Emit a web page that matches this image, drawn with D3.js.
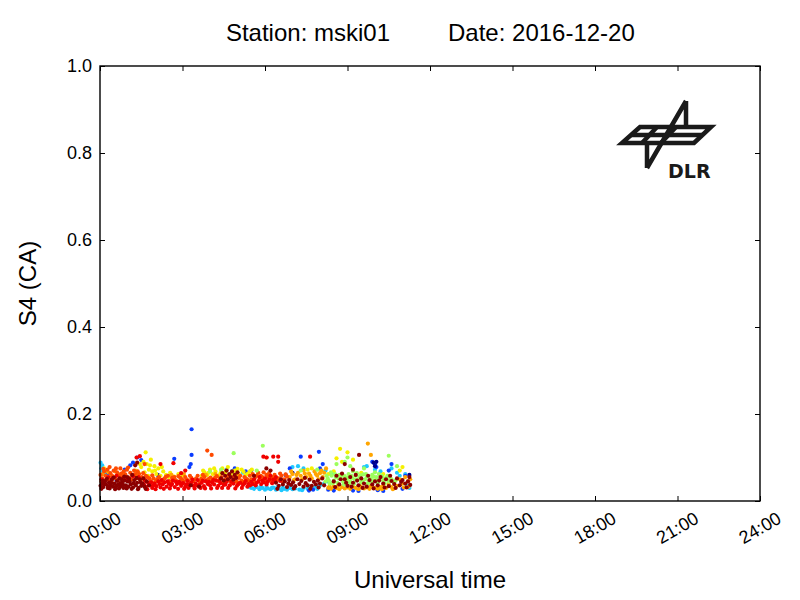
<!DOCTYPE html>
<html>
<head>
<meta charset="utf-8">
<script src="https://cdn.jsdelivr.net/npm/d3@7"></script>
<style>
    body { margin: 0; background: #fff; }
    svg { font-family: "Liberation Sans", Arial, sans-serif; }
    .axis path { display: none; }
    .axis line { stroke: #000; stroke-width: 1; }
</style>
</head>
<body>
<svg id="svgS4" width="800" height="600"></svg>
<script>

// Tick values / labels
var xTicks = [0, 3, 6, 9, 12, 15, 18, 21, 24];
var xTickLabels = ["00:00", "03:00", "06:00", "09:00", "12:00", "15:00", "18:00", "21:00", "24:00"];
var yTicks = [0, 0.2, 0.4, 0.6, 0.8, 1.0];

// S4 points per satellite colour group, [hour UT, S4]
var cyanPoints = [[0.02,0.088],[0.05,0.075],[0.1,0.068],[0.2,0.065],[5.4,0.033],[5.5,0.03],[5.6,0.028],[5.7,0.032],
    [5.8,0.027],[5.9,0.03],[6.0,0.026],[6.1,0.029],[6.2,0.027],[6.3,0.031],[6.4,0.026],[6.5,0.029],[6.6,0.025],
    [6.7,0.028],[6.8,0.026],[6.9,0.03],[7.0,0.027],[7.1,0.029],[7.25,0.026],[7.4,0.03],[7.55,0.028],[7.7,0.031],
    [7.85,0.033],[8.0,0.036],[8.15,0.04],[8.3,0.045],[4.6,0.072],[4.8,0.068],[5.2,0.065],[7.0,0.078],[7.2,0.08],
    [7.4,0.075],[8.2,0.07],[8.4,0.062],[9.6,0.078],[9.7,0.08],[10.0,0.072],[10.2,0.068],[10.6,0.075],[10.8,0.065],
    [11.1,0.062],[11.25,0.03],[11.2,0.035],
    [5.45,0.036],[5.65,0.035],[5.85,0.033],[6.05,0.032],[6.25,0.03],[6.45,0.032],[6.65,0.03],[6.85,0.032],
    [7.05,0.031],[7.35,0.025],[7.6,0.033],[7.9,0.028],[10.9,0.058],[11.15,0.033],[0.08,0.082]];

var bluePoints = [[0.3,0.064],[0.9,0.072],[1.1,0.082],[1.35,0.1],[1.5,0.094],[1.2,0.088],[2.7,0.097],[3.33,0.165],
    [3.33,0.106],[3.3,0.085],[3.25,0.078],[4.9,0.075],[5.3,0.068],[5.5,0.07],[6.9,0.075],[7.3,0.102],[7.96,0.113],
    [8.1,0.085],[8.0,0.075],[9.9,0.09],[10.0,0.084],[10.05,0.078],[10.6,0.085],[10.5,0.07],[11.1,0.058],
    [7.6,0.024],[7.75,0.026],[8.3,0.026],[8.5,0.024],[9.2,0.024],[9.4,0.023],[10.1,0.025],[10.3,0.023],[11.0,0.028]];

var darkBluePoints = [[0.6,0.048],[2.1,0.06],[6.75,0.06],[7.0,0.065],[9.95,0.088],[10.05,0.09],[10.0,0.08],[11.25,0.06]];

var yellowPoints = [[0.15,0.075],[1.3,0.07],[1.4,0.065],[1.5,0.078],[1.58,0.09],[1.66,0.112],[1.7,0.085],[1.78,0.072],
    [1.85,0.095],[1.9,0.068],[1.98,0.08],[2.05,0.062],[2.12,0.075],[2.2,0.058],[2.3,0.068],[2.4,0.06],[2.55,0.065],
    [2.7,0.056],[2.85,0.062],[3.0,0.058],[3.7,0.058],[3.8,0.066],[3.9,0.06],[4.0,0.072],[4.1,0.062],[4.2,0.068],
    [4.3,0.058],[4.45,0.075],[4.55,0.065],[4.65,0.078],[4.75,0.06],[4.9,0.07],[5.05,0.062],[5.15,0.072],[5.3,0.06],
    [5.45,0.068],[5.6,0.058],[5.75,0.064],[7.55,0.072],[7.7,0.075],[8.6,0.098],[8.73,0.12],[8.8,0.09],[9.0,0.112],
    [9.2,0.095],[10.9,0.07],[11.0,0.078],[0.5,0.055],
    [1.35,0.058],[1.45,0.085],[1.62,0.066],[1.75,0.058],[1.82,0.082],[2.0,0.07],[2.25,0.078],[2.5,0.055],
    [3.75,0.07],[3.95,0.065],[4.15,0.075],[4.38,0.064],[4.6,0.07],[4.82,0.066],[5.0,0.074],[5.22,0.067],
    [5.38,0.063],[5.52,0.072],[8.3,0.062],[8.5,0.068],[9.5,0.065],[10.3,0.062]];

var orangePoints = [[0.1,0.062],[0.4,0.058],[0.7,0.06],[2.6,0.06],[3.05,0.062],[3.85,0.06],[4.2,0.062],[5.0,0.058],
    [6.9,0.055],[7.0,0.062],[7.1,0.05],[7.2,0.065],[7.3,0.058],[7.4,0.07],[7.5,0.055],[7.6,0.063],[7.7,0.052],
    [7.8,0.068],[7.9,0.058],[8.0,0.064],[8.1,0.055],[8.22,0.075],[8.3,0.03],[8.4,0.028],[8.5,0.033],[8.6,0.03],
    [8.7,0.027],[8.8,0.032],[8.9,0.029],[9.0,0.031],[9.1,0.028],[9.2,0.033],[9.3,0.03],[9.4,0.027],[9.5,0.032],
    [9.6,0.029],[9.7,0.031],[9.8,0.028],[9.9,0.033],[10.0,0.03],[10.1,0.028],[10.2,0.032],[10.3,0.035],[10.4,0.03],
    [10.5,0.038],[10.6,0.032],[10.7,0.042],[10.8,0.035],[10.9,0.05],[11.0,0.04],[11.1,0.055],[11.2,0.045],
    [11.28,0.05],[9.74,0.132],[9.85,0.106],[6.05,0.1],
    [0.18,0.07],[0.3,0.066],[0.55,0.068],[0.85,0.064],[6.95,0.068],[7.05,0.048],[7.15,0.06],[7.35,0.05],
    [7.45,0.063],[7.65,0.058],[7.85,0.062],[7.95,0.05],[8.05,0.07],[8.15,0.065],[8.35,0.034],[8.65,0.035],
    [9.05,0.034],[9.45,0.035],[9.85,0.035],[10.25,0.027],[10.65,0.027],[11.05,0.031],[11.22,0.033]];

var orangeRedPoints = [[0.02,0.06],[0.08,0.052],[0.15,0.068],[0.2,0.058],[0.27,0.072],[0.32,0.05],[0.38,0.064],
    [0.45,0.057],[0.5,0.07],[0.55,0.053],[0.62,0.066],[0.68,0.059],[0.74,0.075],[0.8,0.055],[0.86,0.068],[0.92,0.061],
    [0.98,0.072],[1.05,0.054],[1.1,0.065],[1.18,0.058],[1.24,0.07],[1.32,0.052],[1.42,0.062],[1.52,0.055],
    [1.62,0.048],[1.72,0.055],[1.85,0.046],[1.95,0.052],[2.05,0.047],[2.15,0.055],[2.3,0.049],[2.4,0.056],
    [2.52,0.046],[2.62,0.053],[2.75,0.048],[2.85,0.057],[2.98,0.05],[3.1,0.055],[3.2,0.047],[3.32,0.053],
    [3.45,0.049],[3.55,0.058],[3.68,0.051],[3.8,0.055],[3.9,0.048],[4.02,0.054],[4.12,0.05],[4.25,0.057],
    [4.35,0.051],[4.48,0.043],[4.6,0.052],[4.72,0.046],[4.85,0.055],[4.95,0.045],[5.05,0.053],[5.15,0.047],
    [5.25,0.055],[5.35,0.05],[5.45,0.058],[5.55,0.062],[5.65,0.055],[5.75,0.065],[5.85,0.058],[5.95,0.066],
    [6.05,0.06],[6.15,0.064],[6.25,0.055],[6.35,0.06],[6.5,0.052],[6.6,0.058],[6.7,0.05],[6.8,0.056],
    [3.9,0.116],[4.06,0.106],[1.62,0.085],
    [0.05,0.045],[0.12,0.074],[0.24,0.049],[0.35,0.078],[0.42,0.046],[0.58,0.075],[0.65,0.047],[0.77,0.063],
    [0.83,0.048],[0.95,0.05],[1.02,0.077],[1.14,0.049],[1.28,0.062],[1.37,0.068],[1.47,0.047],[1.57,0.064],
    [1.67,0.058],[1.8,0.052],[1.9,0.059],[2.0,0.043],[2.1,0.051],[2.22,0.044],[2.35,0.052],[2.47,0.058],
    [2.57,0.043],[2.7,0.055],[2.8,0.045],[2.92,0.053],[3.04,0.045],[3.15,0.05],[3.27,0.058],[3.38,0.045],
    [3.5,0.052],[3.62,0.045],[3.74,0.06],[3.85,0.046],[3.96,0.051],[4.07,0.045],[4.18,0.053],[4.3,0.046],
    [4.42,0.055],[4.54,0.048],[4.66,0.058],[4.78,0.042],[4.9,0.05],[5.0,0.043],[5.1,0.058],[5.2,0.044],
    [5.3,0.052],[5.4,0.046],[5.5,0.05],[5.6,0.045],[5.7,0.058],[5.8,0.05],[5.9,0.055],[6.0,0.048],[6.1,0.056],
    [6.2,0.047],[6.3,0.052],[6.42,0.048],[6.55,0.063],[6.65,0.045],[6.75,0.061]];

var redPoints = [[0.05,0.05],[0.3,0.055],[0.6,0.058],[1.0,0.05],[1.4,0.055],[1.6,0.038],[1.68,0.032],[1.75,0.042],
    [1.82,0.036],[1.9,0.03],[1.98,0.04],[2.05,0.034],[2.12,0.045],[2.2,0.031],[2.28,0.038],[2.35,0.043],[2.42,0.033],
    [2.5,0.04],[2.58,0.036],[2.65,0.047],[2.72,0.032],[2.8,0.039],[2.88,0.044],[2.95,0.035],[3.02,0.041],[3.1,0.033],
    [3.18,0.046],[3.25,0.038],[3.32,0.043],[3.4,0.035],[3.48,0.04],[3.55,0.048],[3.62,0.037],[3.7,0.042],[3.78,0.034],
    [3.85,0.045],[3.92,0.039],[4.0,0.036],[4.08,0.043],[4.15,0.038],[4.22,0.047],[4.3,0.035],[4.38,0.041],[4.5,0.037],
    [4.6,0.044],[4.72,0.036],[4.85,0.04],[4.98,0.035],[5.1,0.042],[5.2,0.037],[5.3,0.046],[5.4,0.039],[5.5,0.044],
    [5.6,0.05],[5.7,0.042],[5.8,0.055],[5.9,0.047],[6.0,0.052],[6.1,0.044],[6.2,0.058],[6.3,0.049],[6.4,0.055],
    [6.55,0.046],[1.33,0.1],[1.45,0.103],[2.67,0.087],[2.2,0.085],[5.94,0.102],[6.06,0.1],[6.3,0.102],[6.48,0.102],
    [6.48,0.09],[7.64,0.102],[3.1,0.07],[2.95,0.064],
    [1.64,0.047],[1.72,0.027],[1.86,0.043],[1.94,0.036],[2.02,0.027],[2.16,0.039],[2.24,0.048],[2.32,0.028],
    [2.46,0.045],[2.54,0.029],[2.62,0.039],[2.76,0.044],[2.84,0.028],[2.92,0.041],[3.06,0.028],[3.14,0.038],
    [3.22,0.03],[3.36,0.049],[3.44,0.029],[3.52,0.036],[3.66,0.03],[3.74,0.047],[3.82,0.029],[3.96,0.044],
    [4.04,0.029],[4.12,0.048],[4.26,0.03],[4.34,0.046],[4.44,0.03],[4.56,0.038],[4.66,0.03],[4.78,0.045],
    [4.92,0.029],[5.04,0.039],[5.16,0.03],[5.26,0.041],[5.36,0.033],[5.46,0.036],[5.56,0.039],[5.66,0.036],
    [5.76,0.045],[5.86,0.039],[5.96,0.043],[6.06,0.038],[6.16,0.05],[6.26,0.041],[6.36,0.047],[0.15,0.047],
    [0.45,0.052],[0.85,0.052],[1.2,0.057]];

var lightGreenPoints = [[4.86,0.11],[5.92,0.127],[4.4,0.072],[4.0,0.068],[5.7,0.07],[7.3,0.07],[7.9,0.072],
    [8.2,0.045],[8.28,0.052],[8.35,0.04],[8.42,0.058],[8.5,0.047],[8.57,0.055],[8.63,0.042],[8.7,0.06],[8.77,0.05],
    [8.84,0.044],[8.9,0.057],[8.97,0.048],[9.04,0.062],[9.1,0.045],[9.17,0.053],[9.24,0.04],[9.3,0.058],[9.37,0.049],
    [9.44,0.055],[9.5,0.043],[9.57,0.061],[9.64,0.05],[9.7,0.056],[9.77,0.044],[9.84,0.052],[9.9,0.06],[9.97,0.047],
    [10.04,0.055],[10.1,0.042],[10.17,0.05],[10.24,0.058],[10.3,0.046],[10.4,0.053],[10.5,0.045],[10.6,0.05],
    [10.75,0.047],[8.6,0.085],[8.9,0.09],[9.1,0.08],[10.5,0.104],[10.8,0.08],[9.6,0.075],[9.0,0.1],
    [8.24,0.058],[8.32,0.047],[8.46,0.041],[8.54,0.062],[8.67,0.052],[8.8,0.058],[8.87,0.038],[9.0,0.053],
    [9.07,0.041],[9.14,0.058],[9.27,0.049],[9.34,0.064],[9.47,0.059],[9.54,0.046],[9.67,0.062],[9.74,0.04],
    [9.87,0.045],[9.94,0.056],[10.07,0.048],[10.14,0.062],[10.27,0.053],[10.35,0.041],[10.45,0.058],[10.55,0.053],
    [10.68,0.043],[8.4,0.066],[9.2,0.068],[10.0,0.066]];

var darkRedPoints = [[0.02,0.035],[0.08,0.041],[0.12,0.032],[0.18,0.045],[0.22,0.038],[0.28,0.03],[0.33,0.043],
    [0.38,0.036],[0.43,0.049],[0.47,0.033],[0.52,0.04],[0.57,0.031],[0.62,0.046],[0.66,0.037],[0.71,0.052],[0.75,0.034],
    [0.8,0.042],[0.85,0.03],[0.9,0.047],[0.94,0.036],[0.99,0.055],[1.03,0.033],[1.08,0.044],[1.12,0.038],[1.17,0.06],
    [1.2,0.031],[1.25,0.048],[1.3,0.036],[1.35,0.042],[1.4,0.03],[1.45,0.05],[1.5,0.035],[1.55,0.04],[1.62,0.033],
    [1.7,0.045],[1.78,0.036],[1.28,0.082],[1.35,0.088],[4.4,0.052],[4.45,0.064],[4.5,0.047],[4.55,0.058],[4.6,0.07],
    [4.65,0.05],[4.7,0.062],[4.75,0.055],[4.8,0.068],[4.85,0.049],[4.9,0.06],[4.95,0.053],[5.0,0.066],[3.3,0.036],
    [3.6,0.033],[5.6,0.058],[6.4,0.042],[6.5,0.035],[6.58,0.05],[6.65,0.038],[6.72,0.045],[6.8,0.032],[6.88,0.048],
    [6.95,0.037],[7.02,0.043],[7.1,0.034],[7.18,0.05],[7.25,0.039],[7.32,0.046],[7.4,0.033],[7.48,0.041],[7.55,0.036],
    [7.62,0.049],[7.7,0.035],[7.78,0.044],[7.85,0.038],[7.92,0.047],[8.0,0.04],[8.08,0.052],[8.15,0.036],[6.2,0.07],
    [6.05,0.075],[8.5,0.045],[8.6,0.058],[8.7,0.038],[8.8,0.063],[8.9,0.05],[9.0,0.035],[9.1,0.055],[9.2,0.042],
    [9.3,0.06],[9.4,0.036],[9.5,0.052],[9.6,0.04],[9.7,0.033],[9.8,0.048],[9.9,0.038],[10.0,0.045],[10.1,0.036],
    [10.2,0.055],[10.3,0.04],[10.4,0.05],[10.5,0.034],[10.6,0.046],[10.7,0.039],[10.8,0.052],[10.9,0.036],[11.0,0.048],
    [11.1,0.04],[11.2,0.045],[11.28,0.037],[8.9,0.085],[9.2,0.072],[9.42,0.106],
    [0.05,0.028],[0.1,0.047],[0.15,0.038],[0.25,0.051],[0.3,0.034],[0.35,0.029],[0.41,0.041],[0.5,0.054],
    [0.55,0.027],[0.6,0.036],[0.69,0.029],[0.73,0.041],[0.78,0.05],[0.83,0.038],[0.88,0.056],[0.97,0.029],
    [1.01,0.045],[1.06,0.051],[1.15,0.028],[1.22,0.041],[1.33,0.053],[1.38,0.027],[1.48,0.043],[1.58,0.052],
    [1.66,0.028],[8.55,0.032],[8.75,0.05],[8.95,0.042],[9.15,0.033],[9.35,0.047],[9.55,0.03],[9.75,0.058],
    [9.95,0.029],[10.15,0.047],[10.35,0.031],[10.55,0.058],[10.75,0.03],[10.95,0.044],[11.15,0.031],[11.25,0.055],
    [6.45,0.028],[6.85,0.04],[7.05,0.029],[7.45,0.053],[7.65,0.028],[7.95,0.031]];

// Drawing order and colours (jet colour map)
var seriesList = [
    {points: cyanPoints, colour: "#1ec8ff"},
    {points: bluePoints, colour: "#0a3cff"},
    {points: darkBluePoints, colour: "#00008b"},
    {points: yellowPoints, colour: "#f5f000"},
    {points: orangePoints, colour: "#ffa500"},
    {points: orangeRedPoints, colour: "#ff4a00"},
    {points: redPoints, colour: "#f00000"},
    {points: lightGreenPoints, colour: "#9cff5c"},
    {points: darkRedPoints, colour: "#8b0000"}
];

function drawChart() {
    /*
    Draws the S4 scatter plot with the DLR logo
    */

    var padding = {top: 66, right: 40, bottom: 99, left: 100};
    var svgWidth = 800;
    var svgHeight = 600;
    var chartWidth = svgWidth - padding.left - padding.right;
    var chartHeight = svgHeight - padding.top - padding.bottom;

    var svg = d3.select("#svgS4");

    var chart = svg.append("g")
        .attr("transform", `translate(${padding.left}, ${padding.top})`);

    var xScale = d3.scaleLinear().domain([0, 24]).range([0, chartWidth]);
    var yScale = d3.scaleLinear().domain([0, 1]).range([chartHeight, 0]);

    // Points
    seriesList.forEach(function(series) {
        chart.append("g")
            .selectAll("circle")
            .data(series.points)
            .enter()
            .append("circle")
                .attr("cx", function(d) { return xScale(d[0]); })
                .attr("cy", function(d) { return yScale(d[1]); })
                .attr("r", 2.1)
                .attr("fill", series.colour);
    });

    // Inward ticks on all four sides
    chart.append("g").attr("class", "axis")
        .attr("transform", `translate(0, ${chartHeight})`)
        .call(d3.axisBottom(xScale).tickValues(xTicks).tickSize(-5).tickFormat(""));
    chart.append("g").attr("class", "axis")
        .call(d3.axisTop(xScale).tickValues(xTicks).tickSize(-5).tickFormat(""));
    chart.append("g").attr("class", "axis")
        .call(d3.axisLeft(yScale).tickValues(yTicks).tickSize(-5).tickFormat(""));
    chart.append("g").attr("class", "axis")
        .attr("transform", `translate(${chartWidth}, 0)`)
        .call(d3.axisRight(yScale).tickValues(yTicks).tickSize(-5).tickFormat(""));

    // Frame
    chart.append("rect")
        .attr("width", chartWidth)
        .attr("height", chartHeight)
        .attr("fill", "none")
        .attr("stroke", "#000")
        .attr("stroke-width", 1.4);

    // X tick labels (rotated)
    chart.selectAll(".xlabel")
        .data(xTicks)
        .enter()
        .append("text")
            .attr("class", "xlabel")
            .attr("transform", function(d) {
                return `translate(${xScale(d)}, ${chartHeight + 27}) rotate(-30)`;
            })
            .attr("text-anchor", "middle")
            .attr("dominant-baseline", "central")
            .attr("font-size", 18)
            .text(function(d, i) { return xTickLabels[i]; });

    // Y tick labels
    chart.selectAll(".ylabel")
        .data(yTicks)
        .enter()
        .append("text")
            .attr("class", "ylabel")
            .attr("x", -8)
            .attr("y", function(d) { return yScale(d); })
            .attr("text-anchor", "end")
            .attr("dominant-baseline", "central")
            .attr("font-size", 18)
            .text(function(d) { return d.toFixed(1); });

    // Title, in two parts with a wide gap
    svg.append("text")
        .attr("x", 390)
        .attr("y", 41)
        .attr("text-anchor", "end")
        .attr("font-size", 24)
        .text("Station: mski01");
    svg.append("text")
        .attr("x", 448)
        .attr("y", 41)
        .attr("text-anchor", "start")
        .attr("font-size", 24)
        .text("Date: 2016-12-20");

    // Axis labels
    svg.append("text")
        .attr("x", padding.left + chartWidth / 2)
        .attr("y", 588)
        .attr("text-anchor", "middle")
        .attr("font-size", 24)
        .text("Universal time");

    svg.append("text")
        .attr("transform", `translate(36, ${padding.top + chartHeight / 2}) rotate(-90)`)
        .attr("text-anchor", "middle")
        .attr("font-size", 24)
        .text("S4 (CA)");

    // DLR logo
    var logo = svg.append("g")
        .attr("fill", "none")
        .attr("stroke", "#1a1a1a")
        .attr("stroke-width", 4.5)
        .attr("stroke-linejoin", "miter");
    logo.append("path").attr("d", "M640,127 L711,127 L694,143 L622,143 Z");
    logo.append("path").attr("d", "M631,135 L703,135");
    logo.append("path").attr("d", "M686,101 L686,127 M686,101 L647,168 M647,143 L647,168");
    logo.append("path").attr("d", "M657,127 L642,143 M676,127 L661,143");
    svg.append("text")
        .attr("x", 668)
        .attr("y", 178)
        .attr("font-family", "DejaVu Sans, sans-serif")
        .attr("font-weight", "bold")
        .attr("font-size", 19)
        .attr("fill", "#1a1a1a")
        .text("DLR");
}

drawChart();
</script>
</body>
</html>
